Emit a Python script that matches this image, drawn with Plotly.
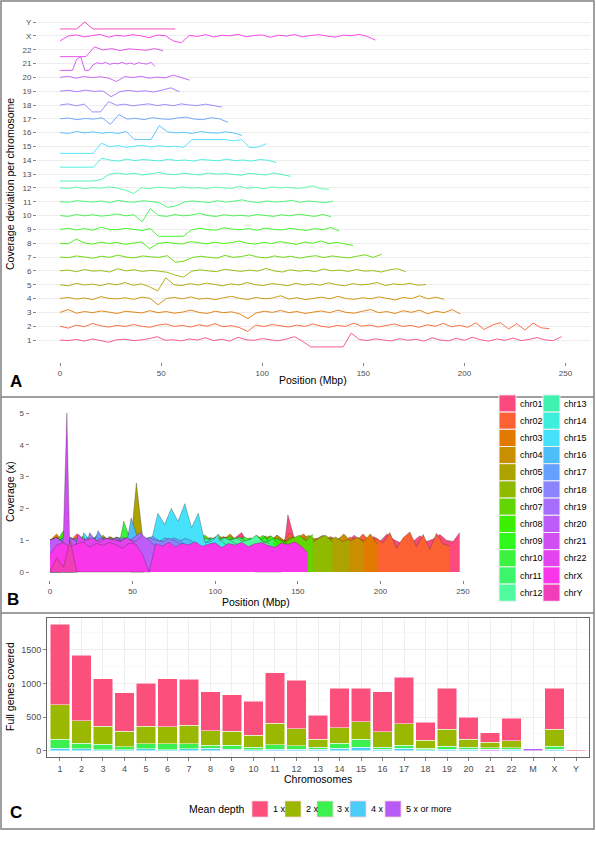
import numpy as np
import plotly.graph_objects as go

W, H = 596, 842
FONT = "Liberation Sans, Arial, Helvetica, sans-serif"

# ---------------- data: chromosomes ----------------
chrom_names = ["chr01", "chr02", "chr03", "chr04", "chr05", "chr06", "chr07", "chr08",
               "chr09", "chr10", "chr11", "chr12", "chr13", "chr14", "chr15", "chr16",
               "chr17", "chr18", "chr19", "chr20", "chr21", "chr22", "chrX", "chrY"]
chrom_labels = [str(i) for i in range(1, 23)] + ["X", "Y"]
chrom_lengths = [248, 242, 198, 190, 181, 171, 159, 145, 138, 134, 135, 133,
                 114, 107, 102, 90, 83, 80, 59, 64, 47, 51, 156, 57]
# typical coverage level of each chromosome (deviation in panel A is relative to it)
chrom_norm = [1.0] * 22 + [0.86, 1.0]
chrom_colors = ["#FA4A7E", "#FB6133", "#E27900", "#C98F00", "#ADA300", "#8FBA00",
                "#62D600", "#3AF000", "#30F81A", "#3BF23F", "#3EF46A", "#4FFB9E",
                "#3FF2B0", "#3EEEDC", "#46E2FB", "#4DBEF8", "#66A0FF", "#8C84FB",
                "#A66EFC", "#BE5CF8", "#CF4FF1", "#E343EC", "#FA36EA", "#F23DB8"]

# coverage (x, in hundredths), sampled evenly along each chromosome
cov_chr01 = [100, 96, 104, 92, 108, 98, 84, 102, 106, 96,
             100, 110, 124, 98, 102, 94, 108, 100, 116, 96,
             106, 92, 120, 102, 98, 110, 100, 94, 108, 124,
             90, 0, 0, 0, 0, 0, 180, 104, 96, 108,
             100, 94, 110, 98, 106, 92, 116, 100, 94, 112,
             98, 120, 102, 92, 108, 98, 114, 96, 104, 118,
             100, 96, 124]
cov_chr02 = [100, 86, 108, 96, 120, 102, 94, 106, 98, 112,
             100, 92, 108, 116, 98, 106, 94, 110, 100, 118,
             96, 104, 90, 62, 108, 98, 112, 102, 94, 108,
             98, 116, 100, 92, 106, 98, 122, 100, 108, 94,
             104, 116, 98, 106, 92, 110, 100, 120, 96, 106,
             92, 124, 76, 108, 126, 80, 118, 72, 122, 88,
             82]
cov_chr03 = [100, 120, 94, 106, 98, 110, 102, 92, 108, 100,
             96, 112, 98, 106, 94, 102, 116, 100, 92, 108,
             98, 104, 88, 55, 96, 108, 100, 114, 98, 106,
             92, 102, 110, 98, 116, 100, 94, 108, 120, 98,
             106, 92, 112, 100, 116, 90, 108, 98, 120, 88]
cov_chr04 = [100, 108, 96, 104, 92, 114, 100, 98, 106, 94,
             110, 102, 55, 100, 108, 98, 112, 96, 102, 92,
             106, 116, 100, 94, 108, 98, 104, 120, 96, 106,
             92, 102, 110, 98, 116, 100, 94, 106, 98, 112,
             102, 90, 108, 100, 120, 98, 110, 94]
cov_chr05 = [100, 92, 110, 98, 104, 94, 108, 100, 116, 96,
             106, 85, 55, 280, 100, 94, 108, 98, 112, 102,
             92, 106, 98, 116, 100, 94, 108, 102, 92, 110,
             98, 106, 96, 114, 100, 92, 108, 98, 104, 116,
             94, 106, 100, 110, 96, 102]
cov_chr06 = [100, 106, 94, 110, 98, 102, 92, 116, 100, 108,
             96, 104, 98, 90, 70, 55, 98, 108, 100, 94,
             112, 102, 96, 106, 98, 118, 100, 92, 108, 98,
             104, 94, 114, 100, 106, 96, 110, 98, 102, 92,
             108, 116, 94]
cov_chr07 = [100, 96, 108, 102, 92, 106, 98, 114, 100, 94,
             108, 102, 98, 110, 62, 70, 96, 106, 100, 92,
             112, 98, 104, 116, 100, 94, 108, 98, 106, 92,
             102, 110, 96, 108, 100, 94, 106, 116, 98, 120]
cov_chr08 = [100, 96, 130, 102, 94, 108, 98, 106, 92, 102,
             110, 60, 98, 106, 100, 94, 112, 102, 96, 108,
             98, 104, 116, 100, 94, 106, 98, 112, 102, 92,
             108, 100, 116, 98, 106, 94, 84]
cov_chr09 = [100, 108, 96, 106, 94, 116, 100, 98, 108, 102,
             92, 106, 0, 0, 0, 0, 96, 108, 100, 94,
             112, 102, 98, 106, 94, 110, 100, 96, 108, 102,
             92, 106, 98, 114, 90]
cov_chr10 = [100, 94, 108, 98, 106, 96, 102, 112, 98, 106,
             55, 160, 100, 94, 108, 98, 104, 116, 100, 94,
             106, 98, 102, 96, 108, 100, 94, 106, 98, 110,
             100, 94, 108, 92]
cov_chr11 = [100, 96, 108, 102, 98, 106, 94, 110, 100, 96,
             108, 102, 92, 60, 70, 98, 106, 100, 94, 108,
             98, 104, 114, 100, 94, 106, 98, 102, 110, 96,
             106, 100, 94, 104]
cov_chr12 = [100, 96, 106, 94, 102, 98, 108, 100, 84, 60,
             102, 94, 106, 100, 96, 108, 98, 102, 94, 106,
             100, 96, 112, 98, 104, 94, 108, 100, 106, 96,
             102, 116, 94, 90]
cov_chr13 = [0, 0, 0, 0, 0, 60, 100, 108, 98, 106,
             94, 102, 112, 100, 96, 106, 98, 94, 108, 100,
             104, 96, 92, 106, 100, 94, 108, 98, 84]
cov_chr14 = [0, 0, 0, 0, 0, 116, 102, 94, 108, 98,
             106, 100, 96, 108, 98, 102, 94, 106, 100, 96,
             108, 98, 102, 94, 106, 100, 84]
cov_chr15 = [0, 0, 0, 0, 0, 124, 98, 106, 94, 102,
             108, 96, 106, 98, 102, 94, 185, 150, 200, 160,
             215, 140, 185, 92, 96, 120]
cov_chr16 = [100, 94, 108, 98, 106, 96, 102, 94, 108, 45,
             40, 45, 170, 106, 98, 102, 94, 108, 100, 96,
             106, 98, 80]
cov_chr17 = [100, 106, 94, 102, 98, 108, 60, 130, 98, 104,
             94, 108, 100, 96, 106, 112, 98, 94, 108, 100, 75]
cov_chr18 = [100, 108, 94, 106, 45, 45, 124, 98, 106, 94,
             102, 108, 96, 104, 94, 108, 100, 96, 106, 98, 85]
cov_chr19 = [100, 106, 96, 108, 98, 102, 60, 96, 106, 98,
             102, 94, 108, 124, 96]
cov_chr20 = [100, 108, 94, 106, 98, 104, 94, 70, 106, 98,
             108, 94, 102, 96, 116, 100, 80]
cov_chr21 = [0, 0, 0, 0, 130, 500, 0, 0, 90, 106,
             98, 108, 94, 102, 98, 108, 96, 104, 94, 106,
             100, 96, 108, 80]
cov_chr22 = [0, 0, 0, 0, 120, 98, 108, 94, 106, 100,
             96, 108, 92]
cov_chrX = [55, 85, 92, 80, 88, 95, 78, 90, 84, 93,
            86, 75, 91, 88, 55, 0, 89, 82, 94, 79,
            90, 86, 95, 81, 88, 92, 77, 90, 85, 94,
            80, 89, 93, 84, 78, 91, 87, 95, 82, 60]
cov_chrY = [0, 45, 15, 100, 0, 0, 0, 0, 0, 0,
            0, 0, 0, 0, 0]

coverage = [cov_chr01, cov_chr02, cov_chr03, cov_chr04, cov_chr05, cov_chr06,
            cov_chr07, cov_chr08, cov_chr09, cov_chr10, cov_chr11, cov_chr12,
            cov_chr13, cov_chr14, cov_chr15, cov_chr16, cov_chr17, cov_chr18,
            cov_chr19, cov_chr20, cov_chr21, cov_chr22, cov_chrX, cov_chrY]

# ---------------- data: genes covered ----------------
gene_chroms = [str(i) for i in range(1, 23)] + ["M", "X", "Y"]
depth_levels = ["1 x", "2 x", "3 x", "4 x", "5 x or more"]
depth_colors = ["#FB4F7C", "#9AB800", "#3CF04F", "#4CCDF8", "#B95CF7"]
genes_1x = [1196, 975, 705, 573, 642, 710, 681, 585, 546, 508, 755, 720, 353,
            583, 495, 598, 686, 269, 612, 329, 147, 338, 0, 608, 12]
genes_2x = [510, 328, 265, 230, 260, 255, 274, 210, 205, 180, 317, 255, 122,
            230, 260, 230, 319, 123, 254, 122, 79, 103, 0, 254, 0]
genes_3x = [137, 84, 83, 44, 74, 88, 78, 49, 59, 34, 64, 49, 25,
            74, 122, 25, 44, 19, 40, 29, 24, 24, 0, 40, 0]
genes_4x = [34, 29, 15, 15, 29, 15, 25, 34, 16, 15, 24, 24, 24,
            39, 49, 24, 39, 15, 24, 20, 0, 20, 0, 24, 0]
genes_5x = [0, 0, 0, 0, 0, 0, 0, 0, 8, 0, 0, 0, 0,
            0, 0, 0, 0, 0, 0, 0, 20, 0, 38, 0, 0]
genes_by_depth = [genes_1x, genes_2x, genes_3x, genes_4x, genes_5x]


def px_x(p):
    return p / W


def px_y(p):
    return 1 - p / H


fig = go.Figure()

# ---- Panel A: deviation lines ----
for k, (vals, L, col, nrm) in enumerate(zip(coverage, chrom_lengths, chrom_colors, chrom_norm)):
    pos = np.linspace(0, L, len(vals))
    cov = np.asarray(vals, dtype=float) / 100.0
    dev = np.clip(cov / nrm - 1.0, -0.5, 0.5)
    fig.add_trace(go.Scatter(x=pos, y=(k + 1) + dev, mode="lines",
                             line=dict(color=col, width=0.9),
                             xaxis="x", yaxis="y", hoverinfo="skip", showlegend=False))

# ---- Panel B: overlaid coverage areas ----
for k, (vals, L, col) in enumerate(zip(coverage, chrom_lengths, chrom_colors)):
    pos = np.linspace(0, L, len(vals))
    cov = np.asarray(vals, dtype=float) / 100.0
    fig.add_trace(go.Scatter(x=pos, y=cov, mode="lines", fill="tozeroy", fillcolor=col,
                             line=dict(color="rgba(40,40,40,0.75)", width=0.4),
                             xaxis="x2", yaxis="y2", hoverinfo="skip", showlegend=False))

# ---- Panel C: stacked bars ----
for lvl, vals, col in reversed(list(zip(depth_levels, genes_by_depth, depth_colors))):
    fig.add_trace(go.Bar(x=gene_chroms, y=vals, name=lvl,
                         marker=dict(color=col, line=dict(color="rgba(255,255,255,0.85)", width=0.6)),
                         xaxis="x3", yaxis="y3", hoverinfo="skip", showlegend=False))

tick_small = dict(family=FONT, size=8, color="#4D4D4D")
tick_c = dict(family=FONT, size=9, color="#4D4D4D")
common = dict(zeroline=False, ticks="outside", ticklen=3, tickwidth=0.6,
              tickcolor="#333333", fixedrange=True, automargin=False)

layout = dict(
    width=W, height=H, margin=dict(l=0, r=0, t=0, b=0),
    paper_bgcolor="white", plot_bgcolor="white", template="none",
    showlegend=False, barmode="stack", bargap=0.1,
    font=dict(family=FONT, color="black"),
    xaxis=dict(domain=[px_x(37), px_x(590)], range=[-11.4, 262.1],
               tickvals=[0, 50, 100, 150, 200, 250], showgrid=False, showline=False,
               anchor="y", tickfont=tick_small, **common),
    yaxis=dict(domain=[px_y(362), px_y(2)], range=[-0.59, 25.45],
               tickvals=list(range(1, 25)), ticktext=chrom_labels,
               showgrid=True, gridcolor="#EBEBEB", gridwidth=0.9, showline=False,
               anchor="x", tickfont=tick_small, **common),
    xaxis2=dict(domain=[px_x(29.5), px_x(481.7)], range=[-12.4, 261.3],
                tickvals=[0, 50, 100, 150, 200, 250], showgrid=False, showline=False,
                anchor="y2", tickfont=tick_small, **common),
    yaxis2=dict(domain=[px_y(580), px_y(403.5)], range=[-0.25, 5.3],
                tickvals=[0, 1, 2, 3, 4, 5], showgrid=False, showline=False,
                anchor="x2", tickfont=tick_small, **common),
    xaxis3=dict(domain=[px_x(47), px_x(589)], type="category", range=[-0.6, 24.6],
                showgrid=True, gridcolor="#EBEBEB", gridwidth=0.8,
                showline=True, mirror=True, linecolor="#555555", linewidth=0.9,
                anchor="y3", tickfont=tick_c, **common),
    yaxis3=dict(domain=[px_y(757), px_y(618)], range=[-94, 1971],
                tickvals=[0, 500, 1000, 1500], showgrid=True, gridcolor="#EBEBEB", gridwidth=0.8,
                minor=dict(tickvals=[250, 750, 1250, 1750], showgrid=True,
                           gridcolor="#F4F4F4", gridwidth=0.5, ticks=""),
                showline=True, mirror=True, linecolor="#555555", linewidth=0.9,
                anchor="x3", tickfont=tick_c, **common),
)

shapes = []
# frame and panel dividers
shapes.append(dict(type="rect", xref="paper", yref="paper",
                   x0=px_x(1), x1=px_x(594), y0=px_y(829), y1=px_y(1),
                   line=dict(color="#808080", width=1.5), fillcolor="rgba(0,0,0,0)", layer="above"))
for yy in (397, 613):
    shapes.append(dict(type="line", xref="paper", yref="paper",
                       x0=px_x(1), x1=px_x(594), y0=px_y(yy), y1=px_y(yy),
                       line=dict(color="#808080", width=1.5), layer="above"))

annotations = []
# panel B legend (two columns)
for i, (name, col) in enumerate(zip(chrom_names, chrom_colors)):
    c, r = divmod(i, 12)
    cx0 = 499 + c * 44
    cy = 403.5 + r * 17.2
    shapes.append(dict(type="rect", xref="paper", yref="paper",
                       x0=px_x(cx0), x1=px_x(cx0 + 17), y0=px_y(cy + 8.6), y1=px_y(cy - 8.6),
                       fillcolor=col, line=dict(color="#F2F2F2", width=1)))
    annotations.append(dict(x=px_x(cx0 + 19), y=px_y(cy), xref="paper", yref="paper",
                            text=name, showarrow=False, xanchor="left", yanchor="middle",
                            font=dict(family=FONT, size=9, color="black")))

# panel C legend (horizontal)
annotations.append(dict(x=px_x(247), y=px_y(809), xref="paper", yref="paper",
                        text="Mean depth", showarrow=False, xanchor="right", yanchor="middle",
                        font=dict(family=FONT, size=10.5, color="black")))
sw_left = [252, 285, 317, 350, 385]
for lvl, col, sx in zip(depth_levels, depth_colors, sw_left):
    shapes.append(dict(type="rect", xref="paper", yref="paper",
                       x0=px_x(sx), x1=px_x(sx + 16), y0=px_y(817), y1=px_y(801),
                       fillcolor=col, line=dict(color="#F4D0DC", width=0.8)))
    annotations.append(dict(x=px_x(sx + 18.5), y=px_y(809), xref="paper", yref="paper",
                            text=lvl, showarrow=False, xanchor="left", yanchor="middle",
                            font=dict(family=FONT, size=9, color="black")))


def title(txt, x, y, angle=0, size=10.5):
    annotations.append(dict(x=px_x(x), y=px_y(y), xref="paper", yref="paper", text=txt,
                            showarrow=False, xanchor="center", yanchor="middle", textangle=angle,
                            font=dict(family=FONT, size=size, color="black")))


title("Position (Mbp)", 313, 380)
title("Coverage deviation per chromosome", 10, 184, -90)
title("Position (Mbp)", 256, 602)
title("Coverage (x)", 10, 492, -90)
title("Chromosomes", 318, 779)
title("Full genes covered", 10, 687, -90)

# panel tags
for tag, x, y in (("A", 16, 382), ("B", 13, 599), ("C", 16, 812)):
    annotations.append(dict(x=px_x(x), y=px_y(y), xref="paper", yref="paper",
                            text="<b>%s</b>" % tag, showarrow=False,
                            xanchor="center", yanchor="middle",
                            font=dict(family=FONT, size=17, color="black")))

layout["shapes"] = shapes
layout["annotations"] = annotations
fig.update_layout(**layout)

fig.write_html("out.html", config={"displayModeBar": False, "staticPlot": True},
               post_script="document.body.style.margin='0';document.body.style.padding='0';")
